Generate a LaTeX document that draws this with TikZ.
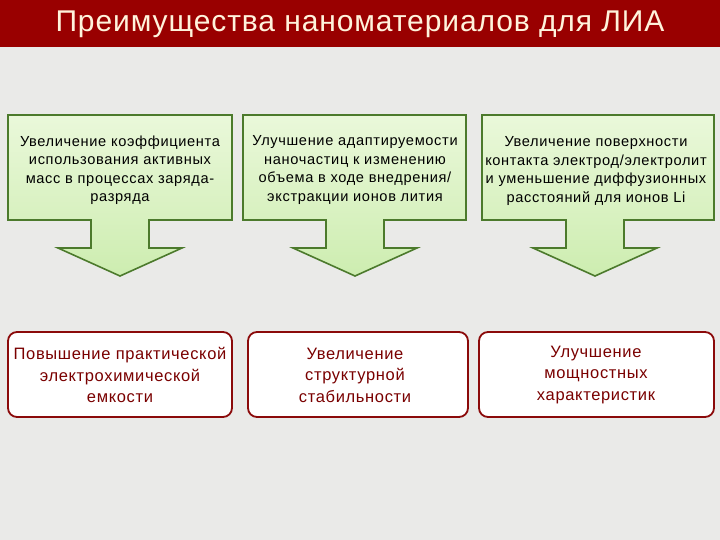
\documentclass[tikz,border=0pt]{standalone}
\usepackage{fontspec}
\setmainfont{Liberation Sans}
\definecolor{bggrey}{HTML}{EAEAE8}
\definecolor{titlered}{HTML}{990000}
\definecolor{titletext}{HTML}{FFF3DC}
\definecolor{gtop}{HTML}{EAF8DA}
\definecolor{gbot}{HTML}{CDEDB0}
\definecolor{gborder}{HTML}{4C7A2C}
\definecolor{rborder}{HTML}{8B0A0A}
\definecolor{rtext}{HTML}{7A0000}
\tikzset{
  greenshape/.style={draw=gborder, line width=1.6pt, top color=gtop, bottom color=gbot, line join=miter},
  gtext/.style={align=center, font=\fontsize{14.6}{18.5}\selectfont\addfontfeatures{LetterSpace=4.5}, text=black, inner sep=0pt},
  redbox/.style={draw=rborder, line width=1.8pt, fill=white, rounded corners=9pt},
  rtextstyle/.style={align=center, font=\fontsize{16.5}{21.5}\selectfont\addfontfeatures{LetterSpace=4}, text=rtext, inner sep=0pt},
  titlestyle/.style={font=\fontsize{30}{34}\selectfont\addfontfeatures{LetterSpace=3}, text=titletext, inner sep=0pt}
}
\newcommand\gcallout[4]{% #1 left, #2 right, #3 arrow centre x, #4 name
  \path[greenshape] (#1,115) -- (#2,115) -- (#2,220) -- (#3+29,220) -- (#3+29,248)
    -- (#3+62,248) -- (#3,276) -- (#3-62,248) -- (#3-29,248) -- (#3-29,220)
    -- (#1,220) -- cycle;
}
\begin{document}
\begin{tikzpicture}[x=1pt,y=-1pt]
\useasboundingbox (0,0) rectangle (720,540);
\fill[bggrey] (0,0) rectangle (720,540);
\fill[titlered] (0,0) rectangle (720,47);
\node[titlestyle] (title) at (360,24) {Преимущества наноматериалов для ЛИА};

\gcallout{8}{232}{120}{g1}
\gcallout{243}{466}{355}{g2}
\gcallout{482}{714}{595}{g3}

\node[gtext] (t1) at (120,170) {Увеличение коэффициента\\использования активных\\масс в процессах заряда-\\разряда};
\node[gtext] (t2) at (355,170) {Улучшение адаптируемости\\наночастиц к изменению\\объема в ходе внедрения/\\экстракции ионов лития};
\node[gtext] (t3) at (596,171) {Увеличение поверхности\\контакта электрод/электролит\\и уменьшение диффузионных\\расстояний для ионов Li};

\draw[redbox] (8,332) rectangle (232,417);
\draw[redbox] (248,332) rectangle (468,417);
\draw[redbox] (479,332) rectangle (714,417);

\node[rtextstyle] (r1) at (120,375) {Повышение практической\\электрохимической\\емкости};
\node[rtextstyle] (r2) at (355,375) {Увеличение\\структурной\\стабильности};
\node[rtextstyle] (r3) at (596,375) {Улучшение\\мощностных\\характеристик};
\end{tikzpicture}
\end{document}
